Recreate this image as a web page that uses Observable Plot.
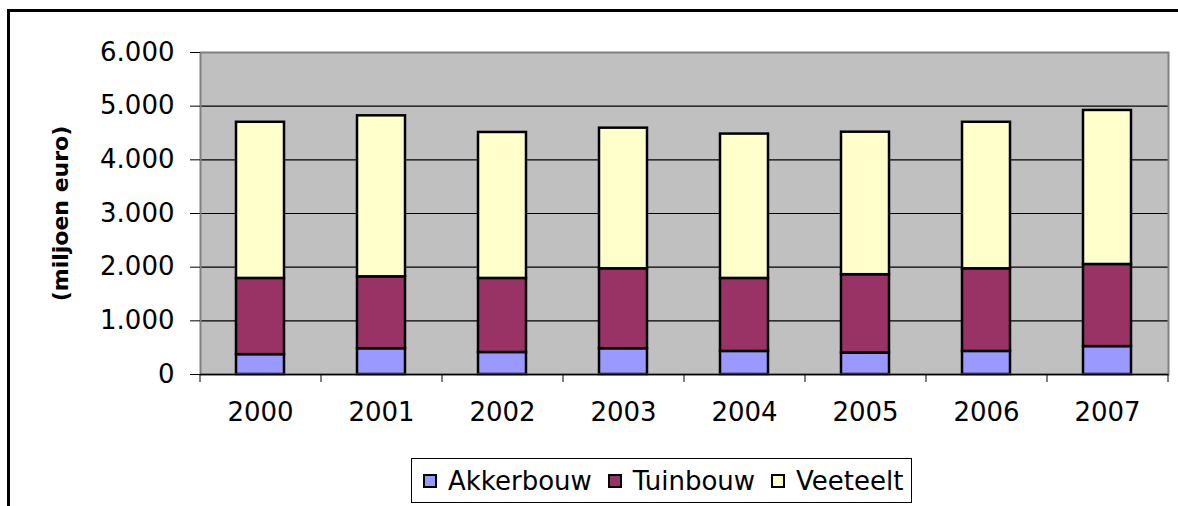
<!DOCTYPE html>
<html>
<head>
<meta charset="utf-8">
<script src="https://cdn.jsdelivr.net/npm/d3@7"></script>
<script src="https://cdn.jsdelivr.net/npm/@observablehq/plot@0.6"></script>
<style>
  html, body { margin: 0; padding: 0; background: #fff; }
  body { width: 1178px; height: 506px; overflow: hidden; position: relative; font-family: "DejaVu Sans", sans-serif; }
  #frame { position: absolute; left: 7px; top: 9px; width: 1180px; height: 510px; border-top: 3px solid #000; border-left: 3px solid #000; box-sizing: border-box; }
  #chart { position: absolute; left: 0; top: 0; }
  #legend { position: absolute; left: 411px; top: 458px; width: 501px; height: 45px; box-sizing: border-box; border: 1px solid #000; display: flex; align-items: center; font-size: 26px; color: #000; background: #fff; }
  .sw { width: 14px; height: 14px; box-sizing: border-box; border: 2px solid #000; margin-left: 13px; margin-right: 11px; flex: none; }
  .sw.first { margin-left: 11px; }
  .lab { white-space: nowrap; margin-right: 3px; }
</style>
</head>
<body>
<div id="frame"></div>
<div id="chart"></div>
<div id="legend"></div>
<script>
const years = ["2000", "2001", "2002", "2003", "2004", "2005", "2006", "2007"];
const series = ["Akkerbouw", "Tuinbouw", "Veeteelt"];
const akkerbouw = [370, 480, 410, 480, 430, 400, 430, 520];
const tuinbouw = [1420, 1340, 1380, 1490, 1360, 1460, 1540, 1530];
const veeteelt = [2910, 3000, 2720, 2620, 2690, 2655, 2730, 2870];
const colors = ["#9999FF", "#993366", "#FFFFCC"];
const yTicks = [0, 1000, 2000, 3000, 4000, 5000, 6000];
const gridValues = [1000, 2000, 3000, 4000, 5000];
const yLabel = "(miljoen euro)";

const valuesBySeries = [akkerbouw, tuinbouw, veeteelt];
const rows = [];
years.forEach((year, i) => {
  series.forEach((s, j) => rows.push({year, series: s, value: valuesBySeries[j][i]}));
});

const nl = d3.formatLocale({decimal: ",", thousands: ".", grouping: [3], currency: ["", ""]});
const fmt = nl.format(",");

const W = 1178, H = 440, ML = 200, MR = 10, MT = 52, MB = 66;
const step = (W - ML - MR) / years.length;

const chart = Plot.plot({
  width: W,
  height: H,
  marginLeft: ML,
  marginRight: MR,
  marginTop: MT,
  marginBottom: MB,
  style: {fontFamily: "DejaVu Sans", color: "#000", background: "transparent", overflow: "visible"},
  x: {type: "band", domain: years, paddingInner: 0.6, paddingOuter: 0.3, axis: null},
  y: {domain: [0, 6000], axis: null},
  color: {domain: series, range: colors},
  marks: [
    Plot.frame({fill: "#C0C0C0", stroke: null}),
    Plot.ruleY(gridValues, {stroke: "#000", strokeWidth: 1.2}),
    Plot.barY(rows, {x: "year", y: "value", fill: "series", stroke: "#000", strokeWidth: 2.5}),
    Plot.frame({stroke: "#808080", strokeWidth: 2}),
    Plot.ruleY([0], {stroke: "#000", strokeWidth: 1.5}),
    Plot.axisY({ticks: yTicks, tickSize: 10, tickPadding: 16, fontSize: 26, tickFormat: fmt, label: null}),
    Plot.axisX({ticks: years, tickSize: 0, tickPadding: 28, fontSize: 26, label: null}),
    Plot.axisX({ticks: years, tickSize: 8, tickFormat: () => "", dx: -step / 2, label: null}),
    Plot.axisX({ticks: years.slice(-1), tickSize: 8, tickFormat: () => "", dx: step / 2, label: null}),
    Plot.text([yLabel], {frameAnchor: "left", dx: -140, rotate: -90, textAnchor: "middle", lineAnchor: "middle", fontWeight: "bold", fontSize: 22, fill: "#000"})
  ]
});
document.getElementById("chart").appendChild(chart);

const legend = document.getElementById("legend");
series.forEach((s, i) => {
  const sw = document.createElement("span");
  sw.className = "sw" + (i === 0 ? " first" : "");
  sw.style.background = colors[i];
  const lab = document.createElement("span");
  lab.className = "lab";
  lab.textContent = s;
  legend.appendChild(sw);
  legend.appendChild(lab);
});
</script>
</body>
</html>
